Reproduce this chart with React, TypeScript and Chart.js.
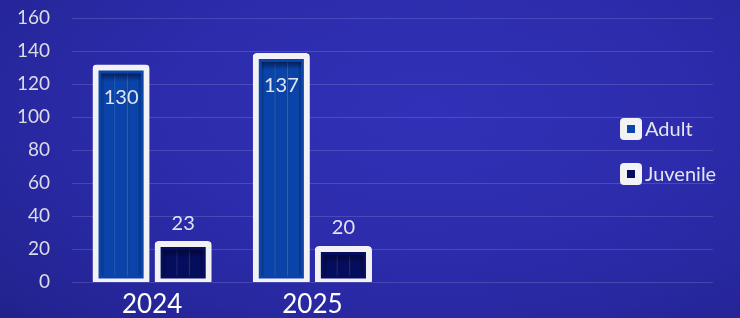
import React, { useEffect, useRef } from "react";
import { Chart, registerables } from "chart.js";

Chart.register(...registerables);

const categories = ["2024", "2025", "", ""];
const adultValues = [130, 137, null, null];
const juvenileValues = [23, 20, null, null];
const seriesNames = ["Adult", "Juvenile"];
const yTicks = [0, 20, 40, 60, 80, 100, 120, 140, 160];

const FONT = "Lato, 'Open Sans', sans-serif";
const ADULT_FILL = "#0a44aa";
const JUV_FILL = "#050d5e";

const barDecor = {
  id: "barDecor",
  afterDatasetsDraw(chart: any) {
    const ctx = chart.ctx;
    chart.data.datasets.forEach((ds: any, di: number) => {
      const meta = chart.getDatasetMeta(di);
      meta.data.forEach((el: any, i: number) => {
        const v = ds.data[i];
        if (v == null) return;
        const p = el.getProps(["x", "y", "base", "width"], true);
        const inset = 9;
        const left = p.x - p.width / 2 - 3 + inset;
        const right = p.x + p.width / 2 + 3 - inset;
        const top = p.y - 3 + inset;
        const bottom = p.base + 3 - inset;
        if (bottom - top < 2) return;
        const w = right - left;
        ctx.save();
        const g = ctx.createLinearGradient(left, 0, right, 0);
        const light = di === 0 ? "rgba(80,150,230,0.45)" : "rgba(90,110,200,0.35)";
        g.addColorStop(0, "rgba(0,0,0,0.25)");
        g.addColorStop(0.08, "rgba(0,0,0,0)");
        g.addColorStop(0.3, "rgba(0,0,0,0)");
        g.addColorStop(0.34, light);
        g.addColorStop(0.38, "rgba(0,0,0,0)");
        g.addColorStop(0.62, "rgba(0,0,0,0)");
        g.addColorStop(0.66, light);
        g.addColorStop(0.7, "rgba(0,0,0,0)");
        g.addColorStop(0.92, "rgba(0,0,0,0)");
        g.addColorStop(1, "rgba(0,0,0,0.25)");
        ctx.fillStyle = g;
        ctx.fillRect(left, top, w, bottom - top);
        const tg = ctx.createLinearGradient(0, top, 0, top + 8);
        tg.addColorStop(0, "rgba(0,0,30,0.55)");
        tg.addColorStop(1, "rgba(0,0,30,0)");
        ctx.fillStyle = tg;
        ctx.fillRect(left, top, w, 8);
        ctx.restore();
      });
    });
  },
};

const valueLabels = {
  id: "valueLabels",
  afterDatasetsDraw(chart: any) {
    const ctx = chart.ctx;
    ctx.save();
    ctx.font = `20px ${FONT}`;
    ctx.fillStyle = "#e4e4ee";
    ctx.textAlign = "center";
    ctx.textBaseline = "middle";
    chart.data.datasets.forEach((ds: any, di: number) => {
      const meta = chart.getDatasetMeta(di);
      meta.data.forEach((el: any, i: number) => {
        const v = ds.data[i];
        if (v == null) return;
        const p = el.getProps(["x", "y"], true);
        const y = di === 0 ? p.y + 30 : p.y - 21;
        ctx.fillText(String(v), p.x, y);
      });
    });
    ctx.restore();
  },
};

const customLegend = {
  id: "customLegend",
  afterDraw(chart: any) {
    const ctx = chart.ctx;
    const fills = [ADULT_FILL, JUV_FILL];
    const x0 = 620;
    const ys = [129, 174];
    ctx.save();
    seriesNames.forEach((name, i) => {
      const cy = ys[i];
      ctx.fillStyle = "#f2f2f4";
      ctx.beginPath();
      (ctx as any).roundRect(x0, cy - 11, 22, 22, 4);
      ctx.fill();
      ctx.fillStyle = fills[i];
      ctx.fillRect(x0 + 7, cy - 4, 8, 8);
      ctx.font = `20px ${FONT}`;
      ctx.fillStyle = "#e4e4ee";
      ctx.textAlign = "left";
      ctx.textBaseline = "middle";
      ctx.fillText(name, x0 + 25, cy + 1);
    });
    ctx.restore();
  },
};

export default function App() {
  const ref = useRef<HTMLCanvasElement>(null);
  useEffect(() => {
    document.body.style.margin = "0";
    const chart = new Chart(ref.current!, {
      type: "bar",
      data: {
        labels: categories,
        datasets: [
          {
            label: seriesNames[0],
            data: adultValues as any,
            backgroundColor: ADULT_FILL,
            borderColor: "#f2f2f4",
            borderWidth: 6,
            borderRadius: 4,
            borderSkipped: false,
            inflateAmount: 3,
            categoryPercentage: 0.775,
            barPercentage: 0.823,
          } as any,
          {
            label: seriesNames[1],
            data: juvenileValues as any,
            backgroundColor: JUV_FILL,
            borderColor: "#f2f2f4",
            borderWidth: 6,
            borderRadius: 4,
            borderSkipped: false,
            inflateAmount: 3,
            categoryPercentage: 0.775,
            barPercentage: 0.823,
          } as any,
        ],
      },
      options: {
        animation: false,
        responsive: false,
        maintainAspectRatio: false,
        layout: { padding: { left: 0, right: 27, top: 18, bottom: 0 } },
        plugins: { legend: { display: false }, tooltip: { enabled: false } },
        scales: {
          x: {
            grid: { display: false, drawTicks: false },
            border: { display: false },
            ticks: { color: "#ffffff", font: { family: FONT, size: 26 }, padding: 7 },
            afterFit: (s: any) => {
              s.height = 36;
              s.paddingLeft = 0;
              s.paddingRight = 0;
            },
          },
          y: {
            min: 0,
            max: 160,
            afterBuildTicks: (s: any) => { s.ticks = yTicks.map((v) => ({ value: v })); },
            grid: { color: "rgba(255,255,255,0.14)", lineWidth: 1, drawTicks: false },
            border: { display: false },
            ticks: { color: "#dcdce6", font: { family: FONT, size: 19 }, padding: 22 },
            afterFit: (s: any) => {
              s.width = 72;
              s.paddingTop = 0;
              s.paddingBottom = 0;
            },
          },
        },
      },
      plugins: [barDecor, valueLabels, customLegend],
    });
    return () => chart.destroy();
  }, []);
  return (
    <div
      style={{
        width: 740,
        height: 318,
        backgroundColor: "#2828a0",
        background:
          "radial-gradient(ellipse 90% 110% at 58% 35%, #3131b8 0%, #2b2baa 45%, #252597 75%, #1d1d82 100%)",
      }}
    >
      <canvas ref={ref} width={740} height={318} style={{ display: "block" }} />
    </div>
  );
}
